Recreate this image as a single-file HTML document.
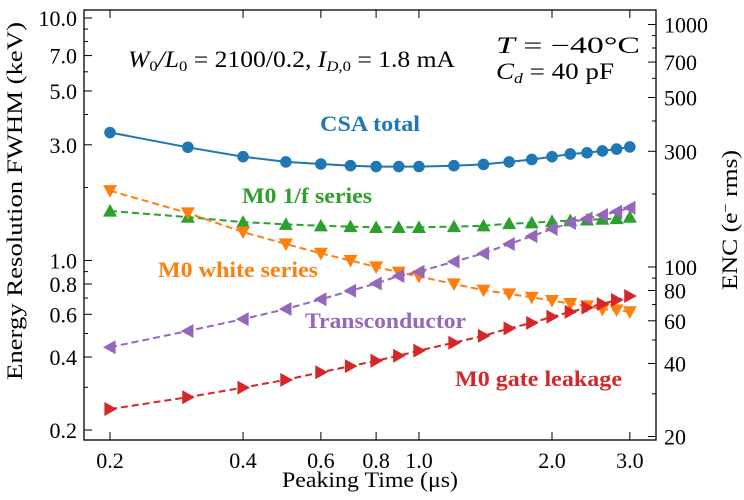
<!DOCTYPE html>
<html><head><meta charset="utf-8"><style>
body{margin:0;background:#fff}
svg text{font-family:"Liberation Serif",serif}
</style></head><body>
<svg id="chart" width="744" height="495" xmlns="http://www.w3.org/2000/svg">
<rect x="84" y="10" width="572" height="430" fill="none" stroke="#000" stroke-width="1.3"/>
<g id="axes"></g>
<g id="series"></g>
<text x="128" y="67" font-size="23" font-style="italic" textLength="327" lengthAdjust="spacingAndGlyphs">W<tspan font-size="15" font-style="normal" dy="4">0</tspan><tspan dy="-4">/L</tspan><tspan font-size="15" font-style="normal" dy="4">0</tspan><tspan font-style="normal" dy="-4"> = 2100/0.2, </tspan><tspan>I</tspan><tspan font-size="15" dy="4">D,</tspan><tspan font-size="15" font-style="normal">0</tspan><tspan font-style="normal" dy="-4"> = 1.8 mA</tspan></text>
<text x="496" y="53" font-size="23" textLength="144" lengthAdjust="spacingAndGlyphs"><tspan font-style="italic">T</tspan> = −40°C</text>
<text x="496" y="79" font-size="23" textLength="118" lengthAdjust="spacingAndGlyphs"><tspan font-style="italic">C</tspan><tspan font-size="15" font-style="italic" dy="4">d</tspan><tspan dy="-4"> = 40 pF</tspan></text>
<text x="320" y="131" font-size="22" font-weight="bold" fill="#1f77b4" textLength="100" lengthAdjust="spacingAndGlyphs">CSA total</text>
<text x="242" y="203" font-size="22" font-weight="bold" fill="#2ca02c" textLength="130" lengthAdjust="spacingAndGlyphs">M0 1/f series</text>
<text x="158" y="277" font-size="22" font-weight="bold" fill="#ff7f0e" textLength="160" lengthAdjust="spacingAndGlyphs">M0 white series</text>
<text x="305" y="328" font-size="22" font-weight="bold" fill="#9467bd" textLength="161" lengthAdjust="spacingAndGlyphs">Transconductor</text>
<text x="455" y="386" font-size="22" font-weight="bold" fill="#d62728" textLength="167" lengthAdjust="spacingAndGlyphs">M0 gate leakage</text>
<text x="282" y="487" font-size="22" textLength="176" lengthAdjust="spacingAndGlyphs">Peaking Time (μs)</text>
<text transform="translate(22,380) rotate(-90)" font-size="22" textLength="358" lengthAdjust="spacingAndGlyphs">Energy Resolution FWHM (keV)</text>
<text transform="translate(737,290) rotate(-90)" font-size="22" textLength="140" lengthAdjust="spacingAndGlyphs">ENC (e<tspan dy="-7" font-size="14">−</tspan><tspan dy="7"> rms)</tspan></text>
</svg>
<script>
const peakingTimes=[0.2,0.3,0.4,0.5,0.6,0.7,0.8,0.9,1.0,1.2,1.4,1.6,1.8,2.0,2.2,2.4,2.6,2.8,3.0];
const csaTotal=[3.37,2.93,2.68,2.55,2.50,2.46,2.44,2.44,2.44,2.46,2.49,2.55,2.61,2.68,2.75,2.78,2.83,2.88,2.94];
const oneFSeries=[1.60,1.51,1.44,1.41,1.39,1.38,1.37,1.37,1.37,1.38,1.39,1.42,1.43,1.45,1.46,1.47,1.48,1.49,1.51];
const whiteSeries=[1.94,1.57,1.31,1.17,1.07,1.0,0.94,0.895,0.86,0.80,0.754,0.728,0.705,0.683,0.664,0.649,0.629,0.625,0.614];
const transconductor=[0.439,0.512,0.573,0.631,0.692,0.75,0.804,0.863,0.899,0.989,1.07,1.17,1.26,1.35,1.43,1.49,1.54,1.59,1.65];
const gateLeakage=[0.244,0.273,0.299,0.322,0.346,0.367,0.386,0.405,0.425,0.458,0.489,0.525,0.553,0.586,0.614,0.639,0.662,0.687,0.714];
const xTicks=[0.2,0.4,0.6,0.8,1.0,2.0,3.0];
const yTicks=[0.2,0.4,0.6,0.8,1.0,3.0,5.0,7.0,10.0];
const yMinor=[0.3,0.5,0.7,0.9,2,4,6,8,9];
const encTicks=[20,40,60,80,100,300,500,700,1000];
const encMinor=[30,50,70,90,200,400,600,800,900];

const NS="http://www.w3.org/2000/svg";
const L=84,R=656,T=10,B=440;
function xs(v){return 110+(Math.log10(v)-Math.log10(0.2))*442;}
function ys(v){return 18+(1-Math.log10(v))*242.5;}
function ye(v){return 267+(2-Math.log10(v))*242.5;}
function mk(tag,attrs,parent){const e=document.createElementNS(NS,tag);for(const k in attrs)e.setAttribute(k,attrs[k]);parent.appendChild(e);return e;}
const ax=document.getElementById('axes');
xTicks.forEach(v=>{const x=xs(v);
 const t=mk('line',{x1:x,x2:x,y1:B,y2:B-8,stroke:'#000'},ax);
 
 
 const t2=mk('line',{x1:x,x2:x,y1:T,y2:T+8,stroke:'#000'},ax);
 
 
 const lb=mk('text',{x:x,y:B+28,'font-size':22,'text-anchor':'middle'},ax);lb.textContent=v.toFixed(1);
 
 
});
yTicks.forEach(v=>{const y=ys(v);
 const t=mk('line',{x1:L,x2:L+8,y1:y,y2:y,stroke:'#000'},ax);
 
 
 const lb=mk('text',{x:L-7,y:y+8,'font-size':22,'text-anchor':'end'},ax);lb.textContent=v.toFixed(1);
 
 
});
yMinor.forEach(v=>{const y=ys(v);
 const t=mk('line',{x1:L,x2:L+4,y1:y,y2:y,stroke:'#000'},ax);
 
 
});
encTicks.forEach(v=>{const y=ye(v);
 const t=mk('line',{x1:R,x2:R-8,y1:y,y2:y,stroke:'#000'},ax);
 
 
 const lb=mk('text',{x:R+8,y:y+8,'font-size':22},ax);lb.textContent=v;
 
 
});
encMinor.forEach(v=>{const y=ye(v);
 const t=mk('line',{x1:R,x2:R-4,y1:y,y2:y,stroke:'#000'},ax);
 
 
});
const sg=document.getElementById('series');
function marker(type,x,y,c,g){
 const s=7;
 if(type==='o'){return mk('circle',{cx:x,cy:y,r:5.8,fill:c},g);}
 let pts;
 if(type==='^')pts=[[x,y-s],[x-s,y+s*0.8],[x+s,y+s*0.8]];
 if(type==='v')pts=[[x,y+s],[x-s,y-s*0.8],[x+s,y-s*0.8]];
 if(type==='<')pts=[[x-s,y],[x+s*0.8,y-s],[x+s*0.8,y+s]];
 if(type==='>')pts=[[x+s,y],[x-s*0.8,y-s],[x-s*0.8,y+s]];
 return mk('polygon',{points:pts.map(q=>q.join(',')).join(' '),fill:c},g);
}
function series(name,vals,c,type,dash){
 const g=mk('g',{},sg);
 
 
 const d=vals.map((v,i)=>(i?'L':'M')+xs(peakingTimes[i]).toFixed(1)+','+ys(v).toFixed(1)).join('');
 const a={d:d,fill:'none',stroke:c,'stroke-width':2};if(dash)a['stroke-dasharray']='7,4';
 const p=mk('path',a,g);
 
 
 vals.forEach((v,i)=>{const m=marker(type,xs(peakingTimes[i]),ys(v),c,g);
  
  });
}
series('csa-total-series',csaTotal,'#1f77b4','o',false);
series('one-f-series',oneFSeries,'#2ca02c','^',true);
series('white-series',whiteSeries,'#ff7f0e','v',true);
series('transconductor-series',transconductor,'#9467bd','<',true);
series('gate-leakage-series',gateLeakage,'#d62728','>',true);
</script>
</body></html>
